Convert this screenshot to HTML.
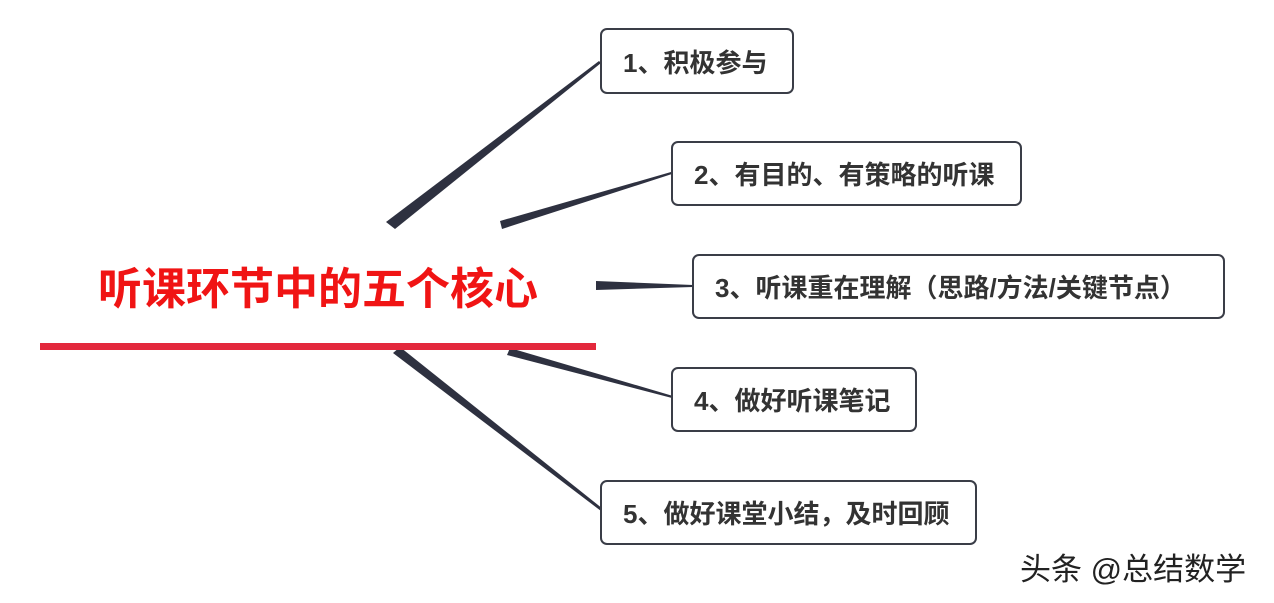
<!DOCTYPE html>
<html><head><meta charset="utf-8"><style>
html,body{margin:0;padding:0;background:#fff;}
body{width:1274px;height:603px;position:relative;overflow:hidden;font-family:"Liberation Sans","Noto Sans CJK SC",sans-serif;}
.b{position:absolute;border:2.5px solid #3a3d47;border-radius:7px;box-sizing:border-box;background:#fff;color:#333;font-weight:bold;font-size:26px;display:flex;align-items:center;padding-left:21px;}
</style></head><body>
<svg width="1274" height="603" style="position:absolute;left:0;top:0">
<g fill="#2e3140">
<polygon points="386,222 395,229 601,63 599,61"/>
<polygon points="500,221 502,229 672,174 671,172"/>
<polygon points="596,281 596,290 693,287 693,285"/>
<polygon points="510,348 507,355 672,398 673,396"/>
<polygon points="400,347 393,353 601,511 603,509"/>
</g>
<rect x="40" y="343" width="556" height="7" fill="#e3283c"/>
</svg>
<div style="position:absolute;left:40px;top:260px;width:556px;text-align:center;color:#f01414;font-weight:bold;font-size:44px;line-height:60px;">听课环节中的五个核心</div>
<div class="b" style="left:600px;top:28px;width:194px;height:66px;">1、积极参与</div>
<div class="b" style="left:671px;top:141px;width:351px;height:65px;">2、有目的、有策略的听课</div>
<div class="b" style="left:692px;top:254px;width:533px;height:65px;">3、听课重在理解（思路/方法/关键节点）</div>
<div class="b" style="left:671px;top:367px;width:246px;height:65px;">4、做好听课笔记</div>
<div class="b" style="left:600px;top:480px;width:377px;height:65px;">5、做好课堂小结，及时回顾</div>
<div style="position:absolute;left:1020px;top:549px;font-size:31px;color:#222;line-height:42px;white-space:nowrap;">头条 @总结数学</div>
</body></html>
